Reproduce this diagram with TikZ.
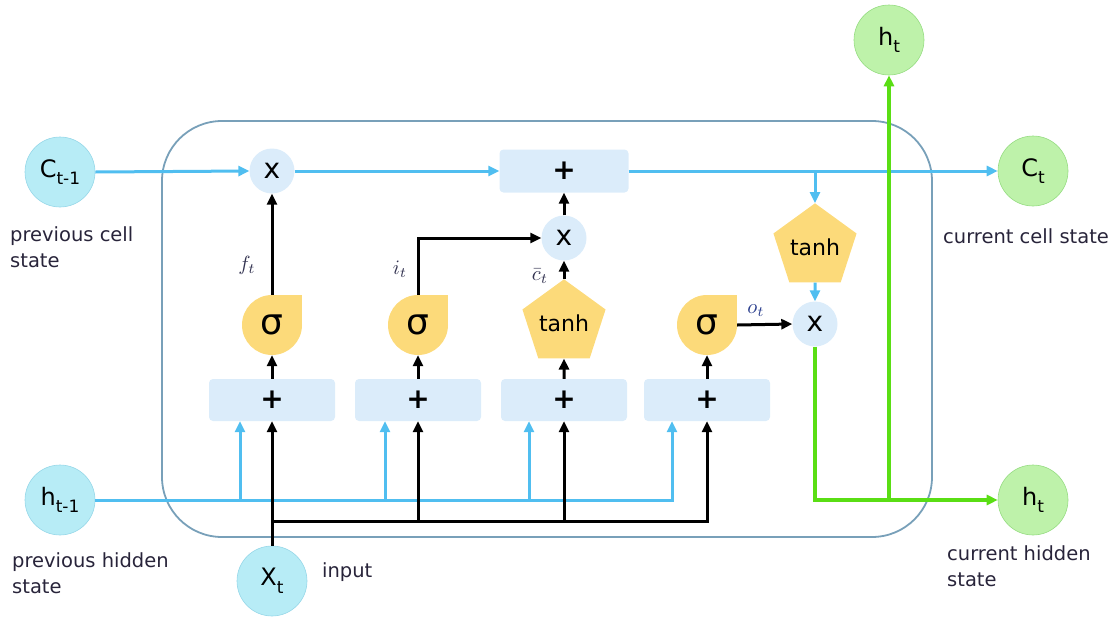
\documentclass[tikz,border=0pt]{standalone}
\usepackage{graphicx}
\usepackage{fontspec}
\usetikzlibrary{arrows.meta,shapes.geometric}
\newfontfamily\dv{DejaVu Sans}
\definecolor{cyanfill}{RGB}{183,236,246}
\definecolor{cyanedge}{RGB}{150,215,232}
\definecolor{grnfill}{RGB}{190,242,170}
\definecolor{grnedge}{RGB}{150,220,130}
\definecolor{opfill}{RGB}{219,236,250}
\definecolor{yel}{RGB}{252,218,122}
\definecolor{bluel}{RGB}{80,190,240}
\definecolor{grl}{RGB}{90,222,20}
\definecolor{boxc}{RGB}{120,160,185}
\definecolor{txt}{RGB}{40,36,58}
\definecolor{lab}{RGB}{50,50,80}
\definecolor{labo}{RGB}{40,60,140}
\pgfdeclarelayer{bg}
\pgfsetlayers{bg,main}
\newcommand\sublab[2]{#1\raisebox{-0.32em}{\fontsize{17}{17}\selectfont #2}}
\newcommand\gatelab[1]{\scalebox{2.05}{$#1$}}
\begin{document}
\begin{tikzpicture}[x=1pt,y=-1pt,
  io/.style={circle, minimum size=70pt, inner sep=0pt, text=black, font=\dv\fontsize{24}{24}\selectfont},
  ioin/.style={io, fill=cyanfill, draw=cyanedge, line width=0.6pt},
  ioout/.style={io, fill=grnfill, draw=grnedge, line width=0.6pt},
  op/.style={circle, fill=opfill, minimum size=45pt, inner sep=0pt, font=\dv\fontsize{28}{28}\selectfont},
  sumbox/.style={rectangle, rounded corners=4pt, fill=opfill, minimum width=126pt, minimum height=42pt, inner sep=0pt, font=\dv\bfseries\fontsize{28}{28}\selectfont},
  sig/.style={circle, fill=yel, minimum size=60pt, inner sep=0pt, font=\dv\fontsize{36}{36}\selectfont},
  act/.style={regular polygon, regular polygon sides=5, fill=yel, minimum size=70pt, inner sep=0pt, font=\dv\fontsize{22}{22}\selectfont},
  desc/.style={anchor=north west, inner sep=0pt, align=left, text=txt, font=\dv\fontsize{19.5}{26}\selectfont},
  glab/.style={inner sep=0pt, text=lab},
  tip/.style={-{Triangle[length=11pt,width=10pt]}},
  bl/.style={draw=bluel, line width=3pt},
  bla/.style={bl, tip},
  bk/.style={draw=black, line width=3pt},
  bka/.style={bk, tip},
  gr/.style={draw=grl, line width=3.2pt},
  gra/.style={gr, tip},
  boxline/.style={draw=boxc, line width=1.8pt, rounded corners=60pt}
]
\useasboundingbox (0,0) rectangle (1119,616);

% outer cell box
\node[boxline, minimum width=770pt, minimum height=416pt, inner sep=0pt] (cell) at (547,329) {};

% inputs / outputs
\node[ioin] (cm1) at (60,172) {\sublab{C}{t-1}};
\node[ioin] (hm1) at (60,500) {\sublab{h}{t-1}};
\node[ioin] (xt) at (272,581) {\sublab{X}{t}};
\node[ioout] (ct) at (1033,171) {\sublab{C}{t}};
\node[ioout] (ht) at (1033,500) {\sublab{h}{t}};
\node[ioout] (htop) at (889,40) {\sublab{h}{t}};

% operations
\node[op] (x1) at (272,171) {x};
\node[sumbox, minimum width=129pt, minimum height=43pt] (pl) at (564,171) {+};
\node[op] (x2) at (564,238) {x};
\node[op] (x3) at (815,324) {x};

% sum boxes
\node[sumbox] (r1) at (272,400) {+};
\node[sumbox] (r2) at (418,400) {+};
\node[sumbox] (r3) at (564,400) {+};
\node[sumbox] (r4) at (707,400) {+};

% gates
\node[sig] (s1) at (272,325) {σ};
\node[sig] (s2) at (418,325) {σ};
\node[act] (t1) at (564,323) {tanh};
\node[sig] (s3) at (707,325) {σ};
\node[act] (t2) at (815,247) {tanh};
\begin{pgfonlayer}{bg}
  \fill[yel] (s1.center) rectangle (s1.east |- s1.north);
  \fill[yel] (s2.center) rectangle (s2.east |- s2.north);
  \fill[yel] (s3.center) rectangle (s3.east |- s3.north);
\end{pgfonlayer}

% coordinates
\coordinate (hb1) at (240,500);
\coordinate (hb2) at (385,500);
\coordinate (hb3) at (529,500);
\coordinate (hb4) at (672,500);
\coordinate (xb0) at (272,521);
\coordinate (xb1) at (418,521);
\coordinate (xb2) at (564,521);
\coordinate (br) at (815,171);
\coordinate (g2) at (889,500);

% cell state line
\draw[bla] (cm1.east) -- (x1.west);
\draw[bla] (x1.east) -- (pl.west);
\draw[bla] (pl.east) -- (ct.west);
\draw[bla] (br) -- (t2.corner 1);
\draw[bla] (t2.south) -- (x3.north);

% hidden state input
\draw[bla] (hm1.east) -| (hb4 |- r4.south);
\draw[bla] (hb1) -- (hb1 |- r1.south);
\draw[bla] (hb2) -- (hb2 |- r2.south);
\draw[bla] (hb3) -- (hb3 |- r3.south);

% x input
\draw[bka] (xt.north) -- (r1.south);
\draw[bka] (xb0) -| (r4.south);
\draw[bka] (xb1) -- (r2.south);
\draw[bka] (xb2) -- (r3.south);

% inside
\draw[bka] (r1.north) -- (s1.south);
\draw[bka] (r2.north) -- (s2.south);
\draw[bka] (r3.north) -- (t1.south);
\draw[bka] (r4.north) -- (s3.south);
\draw[bka] (s1.north) -- (x1.south);
\draw[bka] (s2.north) |- (x2.west);
\draw[bka] (t1.corner 1) -- (x2.south);
\draw[bka] (x2.north) -- (pl.south);
\draw[bka] (s3.east) -- (x3.west);

% output
\draw[gra] (x3.south) |- (ht.west);
\draw[gra] (g2) -- (htop.south);

% gate labels
\node[glab] (lf) at (247,265) {\gatelab{f_t}};
\node[glab] (li) at (400,269) {\gatelab{i_t}};
\node[glab] (lc) at (540,276) {\gatelab{\bar{c}_t}};
\node[glab, text=labo] (lo) at (756,311) {\gatelab{o_t}};

% descriptions
\node[desc] (dpc) at (10,226) {previous cell\\state};
\node[desc] (dph) at (12,552) {previous hidden\\state};
\node[desc] (dcc) at (943,228) {current cell state};
\node[desc] (dch) at (947,545) {current hidden\\state};
\node[anchor=base west, inner sep=0pt, text=txt, font=\dv\fontsize{19.5}{26}\selectfont] (din) at (322,577) {input};
\end{tikzpicture}
\end{document}
